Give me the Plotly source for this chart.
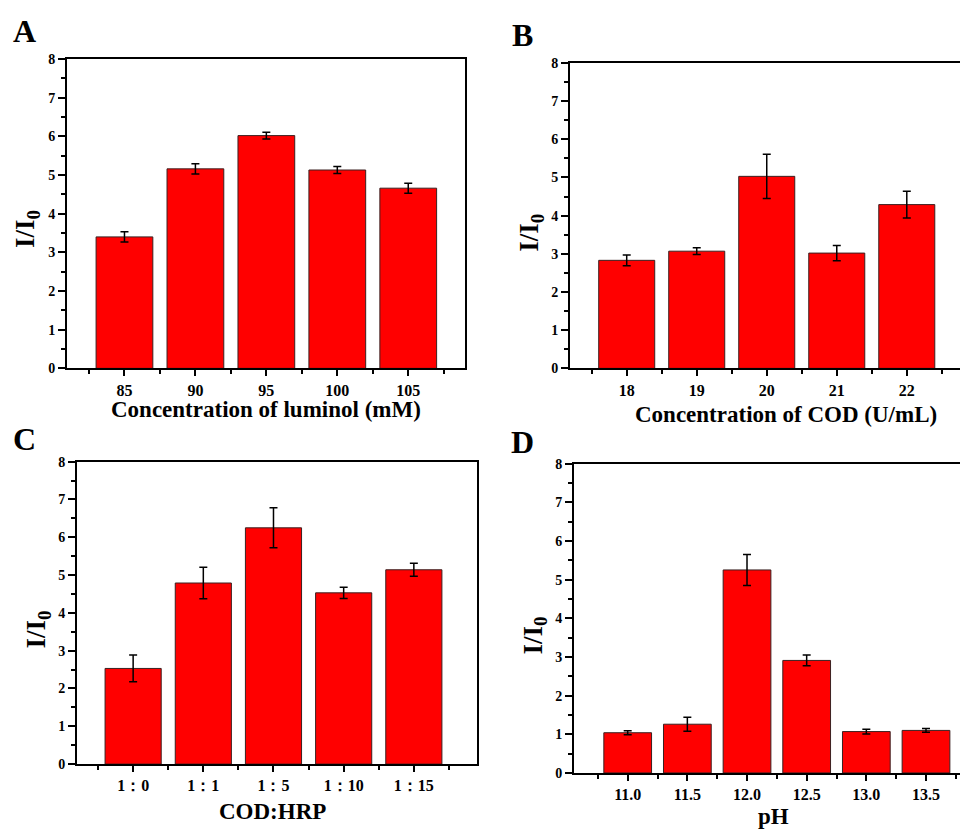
import plotly.graph_objects as go

# ---------------- data ----------------
a_labels = ["85", "90", "95", "100", "105"]
a_values = [3.40, 5.16, 6.02, 5.13, 4.66]
a_errors = [0.13, 0.135, 0.085, 0.09, 0.13]

b_labels = ["18", "19", "20", "21", "22"]
b_values = [2.83, 3.07, 5.03, 3.02, 4.29]
b_errors = [0.14, 0.09, 0.58, 0.20, 0.35]

c_labels = ["1：0", "1：1", "1：5", "1：10", "1：15"]
c_values = [2.53, 4.79, 6.25, 4.53, 5.14]
c_errors = [0.355, 0.415, 0.53, 0.15, 0.17]

d_labels = ["11.0", "11.5", "12.0", "12.5", "13.0", "13.5"]
d_values = [1.04, 1.26, 5.25, 2.91, 1.07, 1.10]
d_errors = [0.05, 0.18, 0.40, 0.14, 0.06, 0.05]

x_titles = ["Concentration of luminol (mM)", "Concentration of COD (U/mL)", "COD:HRP", "pH"]
y_title = "I/I<sub>0</sub>"
panel_letters = ["A", "B", "C", "D"]

W, H = 960, 832
SERIF = "Liberation Serif, Times New Roman, serif"

# panel geometry in pixels: (left, right, top, bottom), x range, right frame shown
panels = [
    dict(lab=a_labels, val=a_values, err=a_errors, px=(67, 465, 53, 368), xr=[-0.81, 4.80], mirror_y=True),
    dict(lab=b_labels, val=b_values, err=b_errors, px=(570, 960, 57, 368), xr=[-0.81, 4.76], mirror_y=False),
    dict(lab=c_labels, val=c_values, err=c_errors, px=(77, 477, 463, 771), xr=[-0.80, 4.90], mirror_y=True),
    dict(lab=d_labels, val=d_values, err=d_errors, px=(574, 960, 465, 780), xr=[-0.90, 5.57], mirror_y=False),
]

letter_pos = [(24, 24), (522, 29), (24, 440), (522, 443)]
xtitle_pos = [(266, 410), (786, 415), (272, 819), (773, 824)]
ytitle_pos = [(27, 226), (531, 230), (38, 634), (535, 640)]

fig = go.Figure()
xtickfont = dict(family=SERIF, size=16, color="black", weight="bold")
ytickfont = dict(family=SERIF, size=14, color="black", weight="bold")

for i, p in enumerate(panels):
    n = len(p["lab"])
    idx = list(range(n))
    sfx = "" if i == 0 else str(i + 1)
    fig.add_trace(go.Bar(
        x=idx, y=p["val"], width=0.8,
        marker=dict(color="#FF0000", line=dict(color="#3a2020", width=1)),
        error_y=dict(type="data", array=p["err"], visible=True, color="black", thickness=1.5, width=4),
        xaxis="x" + sfx, yaxis="y" + sfx, showlegend=False,
    ))
    l, r, t, b = p["px"]
    xd = [l / W, min(r / W, 1.0)]
    yd = [1 - b / H, 1 - t / H]
    fig.layout["xaxis" + sfx] = dict(
        domain=xd, anchor="y" + sfx, range=p["xr"],
        tickmode="array", tickvals=idx, ticktext=p["lab"],
        showline=True, linecolor="black", linewidth=2, mirror=True,
        ticks="outside", ticklen=6, tickwidth=1.5, tickcolor="black",
        minor=dict(tickmode="linear", tick0=0.5, dtick=1, ticks="outside", ticklen=4, tickwidth=1.5, tickcolor="black"),
        showgrid=False, zeroline=False, tickfont=xtickfont, fixedrange=True,
    )
    fig.layout["yaxis" + sfx] = dict(
        domain=yd, anchor="x" + sfx, range=[0, 8],
        tickmode="linear", tick0=0, dtick=1,
        showline=True, linecolor="black", linewidth=2, mirror=p["mirror_y"],
        ticks="outside", ticklen=7, tickwidth=1.5, tickcolor="black",
        minor=dict(tickmode="linear", tick0=0.5, dtick=1, ticks="outside", ticklen=4, tickwidth=1.5, tickcolor="black"),
        showgrid=False, zeroline=False, tickfont=ytickfont, fixedrange=True,
    )

annotations = []
for i in range(4):
    lx, ly = letter_pos[i]
    annotations.append(dict(text=panel_letters[i], x=lx / W, y=1 - ly / H, xref="paper", yref="paper",
                            showarrow=False, xanchor="center", yanchor="middle",
                            font=dict(family=SERIF, size=32, color="black", weight="bold")))
    tx, ty = xtitle_pos[i]
    annotations.append(dict(text=x_titles[i], x=tx / W, y=1 - ty / H, xref="paper", yref="paper",
                            showarrow=False, xanchor="center", yanchor="middle",
                            font=dict(family=SERIF, size=23, color="black", weight="bold")))
    yx, yy = ytitle_pos[i]
    annotations.append(dict(text=y_title, x=yx / W, y=1 - yy / H, xref="paper", yref="paper",
                            showarrow=False, xanchor="center", yanchor="middle", textangle=-90,
                            font=dict(family=SERIF, size=27, color="black", weight="bold")))

fig.update_layout(
    width=W, height=H, margin=dict(l=0, r=0, t=0, b=0),
    paper_bgcolor="white", plot_bgcolor="white",
    annotations=annotations, bargap=0.2, showlegend=False,
)

fig.write_html("out.html", config={"displayModeBar": False},
               post_script="document.body.style.margin='0px';document.body.style.overflow='hidden';")
